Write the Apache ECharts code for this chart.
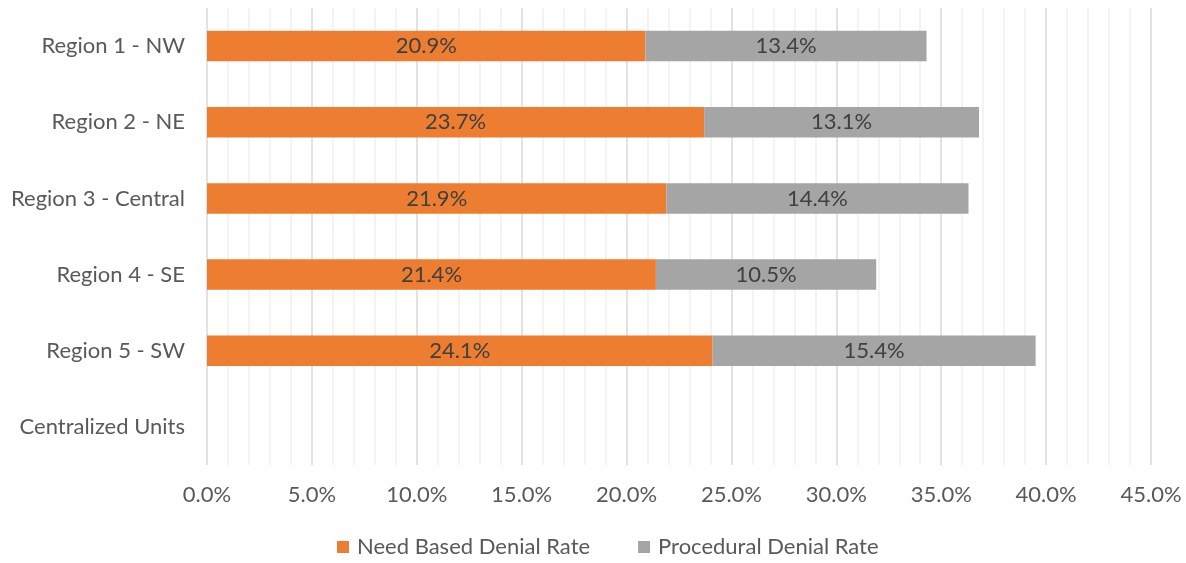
<!DOCTYPE html>
<html><head><meta charset="utf-8">
<script src="https://cdn.jsdelivr.net/npm/echarts@6/dist/echarts.min.js"></script>
<style>html,body{margin:0;padding:0;background:#fff}#c{width:1186px;height:563px}</style>
</head><body><div id="c"></div>
<script>
const categories = ['Region 1 - NW','Region 2 - NE','Region 3 - Central','Region 4 - SE','Region 5 - SW','Centralized Units'];
const needBased = [20.9, 23.7, 21.9, 21.4, 24.1, null];
const procedural = [13.4, 13.1, 14.4, 10.5, 15.4, null];
const seriesNames = ['Need Based Denial Rate','Procedural Denial Rate'];
const FONT = 'Lato';
const FS = 22;
const chart = echarts.init(document.getElementById('c'));
const lbl = {show:true, position:'inside', color:'#404040', fontFamily:FONT, fontSize:FS,
  formatter: p => p.value == null ? '' : p.value.toFixed(1) + '%'};
chart.setOption({
  animation:false,
  grid:{left:207, right:35, top:8, bottom:98, containLabel:false},
  legend:{bottom:0, left:332, itemWidth:12, itemHeight:12, itemGap:48, icon:'rect',
    textStyle:{color:'#595959', fontFamily:FONT, fontSize:FS, padding:[0,0,0,3]}, data:seriesNames},
  xAxis:{type:'value', min:0, max:45, interval:5,
    axisLine:{show:false}, axisTick:{show:false},
    axisLabel:{color:'#595959', fontFamily:FONT, fontSize:FS, margin:19, formatter:v=>v.toFixed(1)+'%'},
    splitLine:{show:true, lineStyle:{color:'#d9d9d9', width:1.5}},
    minorTick:{show:true, splitNumber:5, length:0, lineStyle:{opacity:0}},
    minorSplitLine:{show:true, lineStyle:{color:'#f0f0f0', width:1.5}}
  },
  yAxis:{type:'category', data:categories, inverse:true,
    axisLine:{show:false}, axisTick:{show:false},
    axisLabel:{color:'#595959', fontFamily:FONT, fontSize:FS, margin:22}},
  series:[
    {name:seriesNames[0], type:'bar', stack:'a', data:needBased, barWidth:'40%',
      itemStyle:{color:'#ED7D31'}, label:lbl},
    {name:seriesNames[1], type:'bar', stack:'a', data:procedural, barWidth:'40%',
      itemStyle:{color:'#A5A5A5'}, label:lbl}
  ]
});
</script></body></html>
